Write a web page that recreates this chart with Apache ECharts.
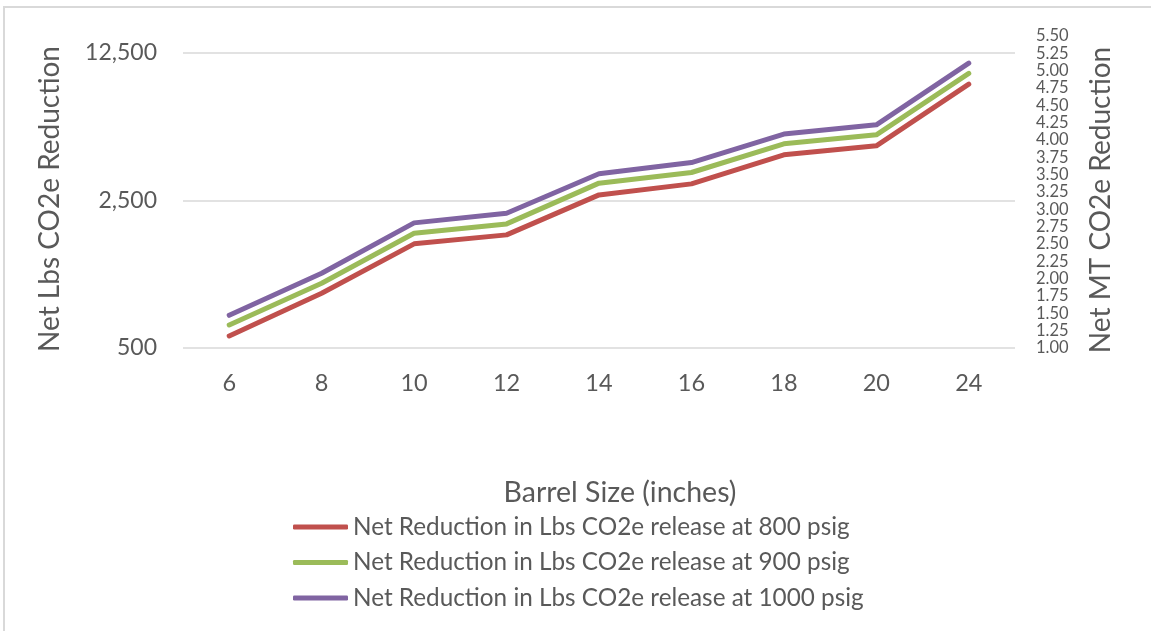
<!DOCTYPE html>
<html>
<head>
<meta charset="utf-8">
<script src="https://cdn.jsdelivr.net/npm/echarts@6/dist/echarts.min.js"></script>
<style>
  html, body { margin: 0; padding: 0; background: #fff; }
  #frame { position: absolute; left: 3px; top: 6px; width: 1200px; height: 700px;
           border-left: 2px solid #d9d9d9; border-top: 2px solid #d9d9d9; box-sizing: border-box; }
  #chart { position: absolute; left: 0; top: 0; width: 1151px; height: 631px; }
</style>
</head>
<body>
<div id="frame"></div>
<div id="chart"></div>
<script>
// Barrel sizes (inches)
const barrelSizes = ['6', '8', '10', '12', '14', '16', '18', '20', '24'];

// Net reduction in lbs CO2e release, by pressure
const lbs800psig  = [570, 908, 1556, 1716, 2653, 2992, 4107, 4531, 8884];
const lbs900psig  = [643, 1013, 1748, 1934, 3016, 3387, 4631, 5108, 9973];
const lbs1000psig = [714, 1130, 1956, 2174, 3340, 3776, 5150, 5697, 11166];

const seriesNames = [
  'Net Reduction in Lbs CO2e release at 800 psig',
  'Net Reduction in Lbs CO2e release at 900 psig',
  'Net Reduction in Lbs CO2e release at 1000 psig'
];
const seriesColors = ['#C0504D', '#9BBB59', '#8064A2'];

const FONT = 'Lato, "Liberation Sans", sans-serif';
const TEXT = '#595959';

const chart = echarts.init(document.getElementById('chart'), null, { renderer: 'canvas' });

const lineSeries = [lbs800psig, lbs900psig, lbs1000psig].map((vals, i) => ({
  name: seriesNames[i],
  type: 'line',
  yAxisIndex: 0,
  data: vals,
  showSymbol: false,
  symbol: 'none',
  lineStyle: { width: 5, color: seriesColors[i], cap: 'round', join: 'round' },
  itemStyle: { color: seriesColors[i] },
  emphasis: { disabled: true },
  z: 3 + i
}));

chart.setOption({
  animation: false,
  backgroundColor: 'transparent',
  textStyle: { fontFamily: FONT },
  grid: { left: 183, right: 136, top: 36, height: 312, containLabel: false },
  xAxis: {
    type: 'category',
    data: barrelSizes,
    boundaryGap: true,
    axisLine: { show: false },
    axisTick: { show: false },
    axisLabel: { color: TEXT, fontSize: 23.5, fontFamily: FONT, margin: 23 }
  },
  yAxis: [
    {
      // log base 5, ticks stepped one power of 5 from the minimum
      type: 'log',
      logBase: 5,
      min: 500,
      max: 15000,
      interval: 1,
      position: 'left',
      axisLine: { show: false },
      axisTick: { show: false },
      splitLine: { show: true, showMaxLine: false, lineStyle: { color: '#d9d9d9', width: 1.5 } },
      axisLabel: {
        color: TEXT, fontSize: 23, fontFamily: FONT, margin: 26, showMaxLabel: false,
        formatter: v => (Math.round(v / 100) * 100).toLocaleString('en-US')
      }
    },
    {
      type: 'value',
      min: 1,
      max: 5.5,
      interval: 0.25,
      position: 'right',
      axisLine: { show: false },
      axisTick: { show: false },
      splitLine: { show: false },
      axisLabel: {
        color: TEXT, fontSize: 16.5, lineHeight: 14, fontFamily: FONT, margin: 21,
        formatter: v => v.toFixed(2)
      }
    }
  ],
  legend: {
    orient: 'vertical',
    left: 288,
    top: 510,
    padding: 5,
    itemWidth: 55,
    itemHeight: 5,
    itemGap: 11.5,
    icon: 'roundRect',
    data: seriesNames,
    textStyle: { color: TEXT, fontSize: 24.3, fontFamily: FONT, lineHeight: 24 }
  },
  graphic: [
    {
      type: 'text', x: 50, y: 199,
      rotation: Math.PI / 2,
      style: { text: 'Net Lbs CO2e Reduction', fill: TEXT, fontSize: 28, fontFamily: FONT,
               align: 'center', verticalAlign: 'middle' }
    },
    {
      type: 'text', x: 1101, y: 200,
      rotation: Math.PI / 2,
      style: { text: 'Net MT CO2e Reduction', fill: TEXT, fontSize: 28, fontFamily: FONT,
               align: 'center', verticalAlign: 'middle' }
    },
    {
      type: 'text', x: 620, y: 493,
      style: { text: 'Barrel Size (inches)', fill: TEXT, fontSize: 28.5, fontFamily: FONT,
               align: 'center', verticalAlign: 'middle' }
    }
  ],
  series: lineSeries
});
</script>
</body>
</html>
